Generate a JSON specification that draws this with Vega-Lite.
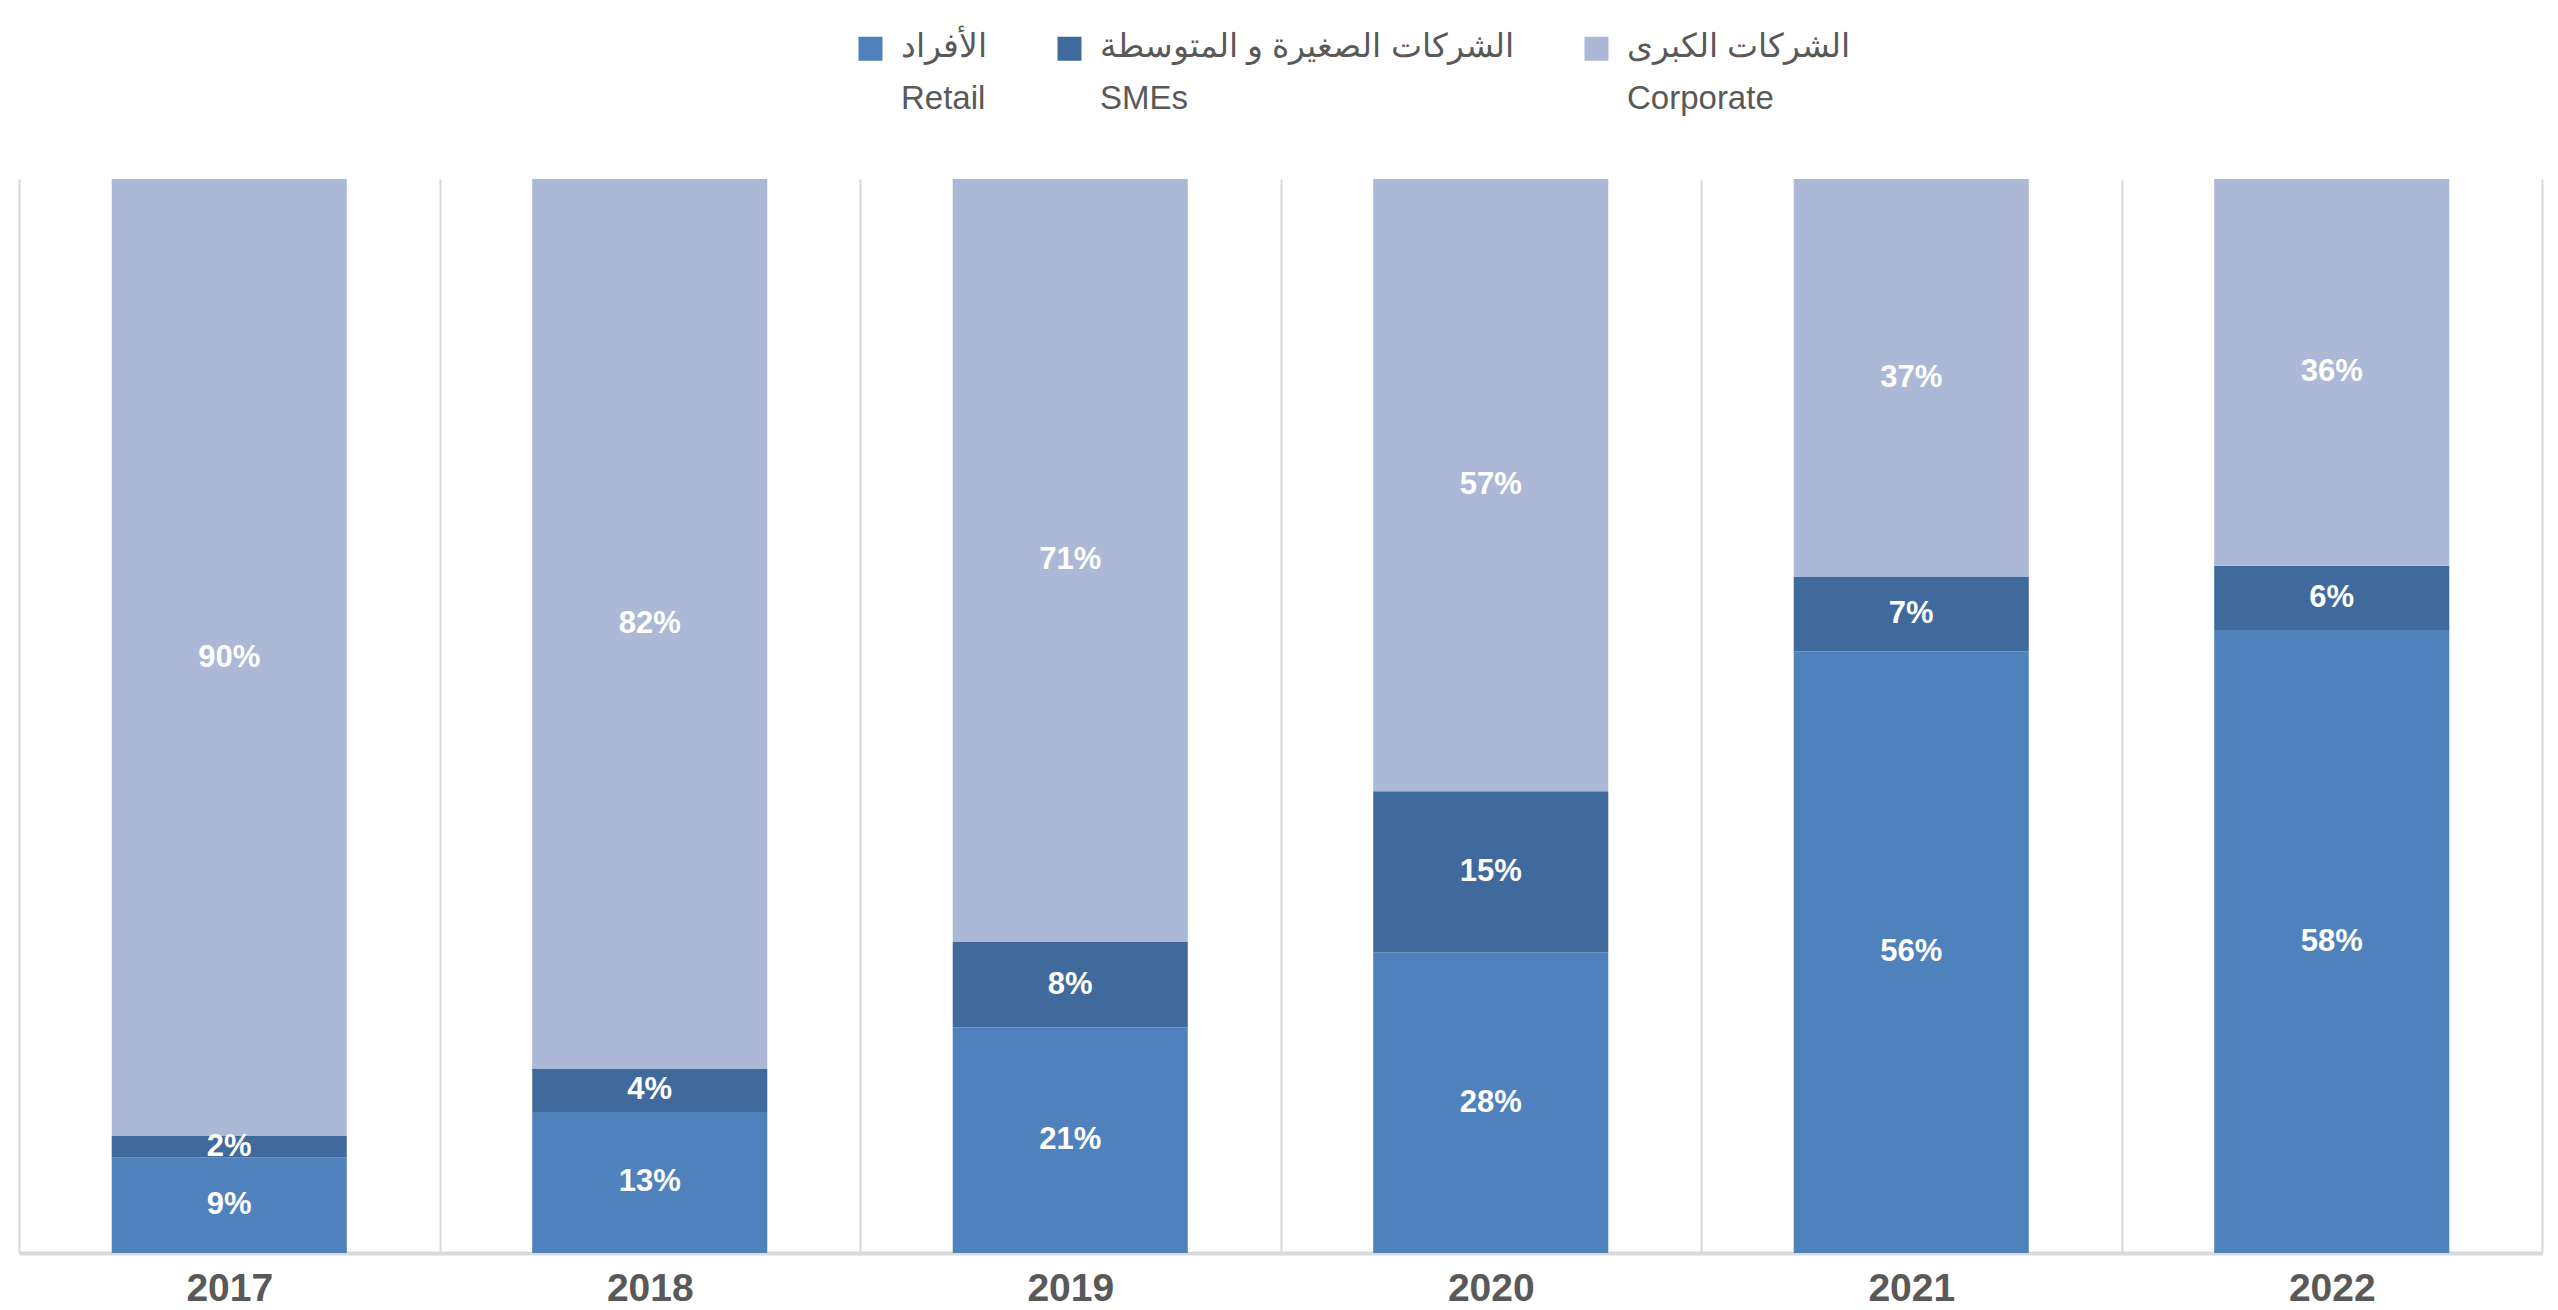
{
  "$schema": "https://vega.github.io/schema/vega-lite/v6.json",
  "width": 2523,
  "height": 1074,
  "autosize": {"type": "none"},
  "padding": {"left": 19, "top": 179, "right": 16, "bottom": 57},
  "background": "white",
  "data": {
    "values": [
      {"year": "2017", "segment": "Retail", "value": 9},
      {"year": "2017", "segment": "SMEs", "value": 2},
      {"year": "2017", "segment": "Corporate", "value": 90},
      {"year": "2018", "segment": "Retail", "value": 13},
      {"year": "2018", "segment": "SMEs", "value": 4},
      {"year": "2018", "segment": "Corporate", "value": 82},
      {"year": "2019", "segment": "Retail", "value": 21},
      {"year": "2019", "segment": "SMEs", "value": 8},
      {"year": "2019", "segment": "Corporate", "value": 71},
      {"year": "2020", "segment": "Retail", "value": 28},
      {"year": "2020", "segment": "SMEs", "value": 15},
      {"year": "2020", "segment": "Corporate", "value": 57},
      {"year": "2021", "segment": "Retail", "value": 56},
      {"year": "2021", "segment": "SMEs", "value": 7},
      {"year": "2021", "segment": "Corporate", "value": 37},
      {"year": "2022", "segment": "Retail", "value": 58},
      {"year": "2022", "segment": "SMEs", "value": 6},
      {"year": "2022", "segment": "Corporate", "value": 36}
    ]
  },
  "transform": [
    {"calculate": "indexof(['Retail','SMEs','Corporate'], datum.segment)", "as": "ord"},
    {"stack": "value", "groupby": ["year"], "sort": [{"field": "ord"}], "offset": "normalize", "as": ["v0", "v1"]},
    {"calculate": "(datum.v0 + datum.v1) / 2", "as": "vmid"},
    {"calculate": "datum.value + '%'", "as": "label"}
  ],
  "encoding": {
    "x": {
      "field": "year",
      "type": "nominal",
      "scale": {"paddingInner": 0, "paddingOuter": 0},
      "axis": {
        "title": null,
        "labelAngle": 0,
        "labelFont": "Liberation Sans",
        "labelFontSize": 39,
        "labelFontWeight": "bold",
        "labelColor": "#595959",
        "labelPadding": 16,
        "ticks": false,
        "domainColor": "#D9D9D9",
        "domainWidth": 4,
        "grid": true,
        "gridColor": "#D9D9D9",
        "gridWidth": 2,
        "gridOpacity": 1,
        "tickBand": "extent"
      }
    }
  },
  "layer": [
    {
      "mark": {"type": "bar", "width": {"band": 0.559}},
      "encoding": {
        "y": {"field": "v0", "type": "quantitative", "scale": {"domain": [0, 1]}, "axis": null},
        "y2": {"field": "v1"},
        "color": {
          "field": "segment",
          "type": "nominal",
          "scale": {"domain": ["Retail", "SMEs", "Corporate"], "range": ["#4F81BD", "#3F6A9B", "#ABB9D6"]},
          "legend": {
            "orient": "none",
            "legendX": 835,
            "legendY": -147,
            "padding": 0,
            "direction": "horizontal",
            "title": null,
            "symbolType": "square",
            "symbolSize": 576,
            "symbolStrokeWidth": 0,
            "labelFont": "Liberation Sans",
            "labelFontSize": 33,
            "labelColor": "#595959",
            "labelLimit": 1000,
            "labelOffset": 14,
            "columnPadding": 66,
            "labelBaseline": "top",
            "labelExpr": "datum.label == 'Retail' ? ['الأفراد', 'Retail'] : datum.label == 'SMEs' ? ['الشركات الصغيرة و المتوسطة', 'SMEs'] : ['الشركات الكبرى', 'Corporate']",
            "encode": {"labels": {"update": {"lineHeight": {"value": 52}, "dy": {"value": -18}}}}
          }
        }
      }
    },
    {
      "mark": {"type": "text", "font": "Liberation Sans", "fontSize": 31, "fontWeight": "bold", "color": "white", "baseline": "middle"},
      "encoding": {
        "y": {"field": "vmid", "type": "quantitative"},
        "text": {"field": "label"}
      }
    }
  ],
  "config": {"view": {"stroke": null}}
}
